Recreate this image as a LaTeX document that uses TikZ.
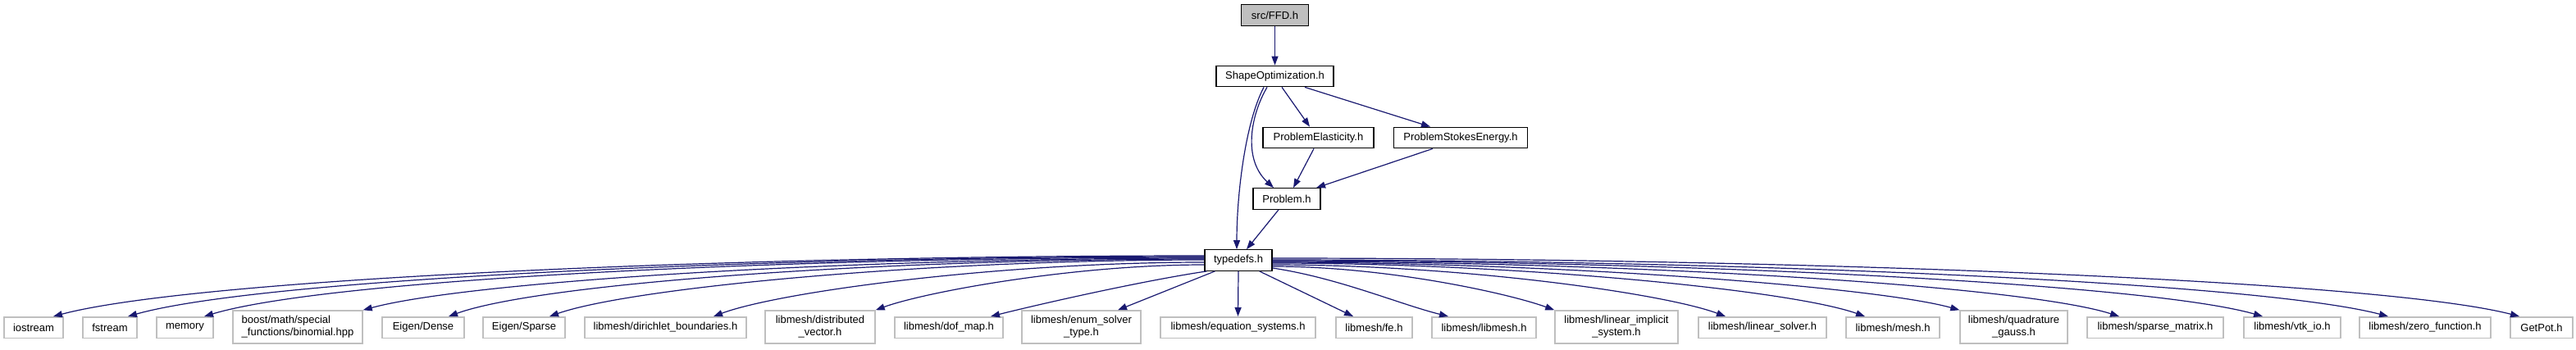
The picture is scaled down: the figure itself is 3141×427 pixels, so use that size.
\documentclass[tikz,border=0pt]{standalone}
\usepackage{fontspec}
\setmainfont{Liberation Sans}
\usetikzlibrary{arrows.meta,calc}
\definecolor{edgeblue}{HTML}{191970}
\definecolor{boxgray}{HTML}{BFBFBF}
\begin{document}
\begin{tikzpicture}[x=0.5pt,y=-0.5pt,
  every node/.style={font=\fontsize{6.5}{7.5}\selectfont, inner sep=0pt, align=center},
  topbox/.style={draw=black, line width=0.65pt, minimum height=12.75pt},
  gbox/.style={draw=boxgray, line width=0.75pt, minimum height=12.75pt},
  gbox2/.style={draw=boxgray, line width=0.75pt, minimum height=20pt},
  e/.style={draw=edgeblue, line width=0.6pt, -{Triangle[length=5.5pt,width=4pt]}}]
\useasboundingbox (0,0) rectangle (3141,427);
% top part
\node[topbox, fill=boxgray, minimum width=41pt] (ffd) at (1554.5,18.5) {src/FFD.h};
\node[topbox, minimum width=71.5pt] (shape) at (1554.5,93) {ShapeOptimization.h};
\node[topbox, minimum width=67.5pt] (elast) at (1607.5,168) {ProblemElasticity.h};
\node[topbox, minimum width=81.5pt] (stokes) at (1781,168) {ProblemStokesEnergy.h};
\node[topbox, minimum width=41pt] (problem) at (1569,242.5) {Problem.h};
\node[topbox, minimum width=41pt] (td) at (1510,317.5) {typedefs.h};
% bottom row
\node[gbox, minimum width=36pt] (iostream) at (41,399.5) {iostream};
\node[gbox, minimum width=33pt] (fstream) at (134,399.5) {fstream};
\node[gbox, minimum width=34.5pt] (memory) at (225.5,399.5) {memory};
\node[gbox2, minimum width=79pt, align=left] (boost) at (363,399) {boost/math/special\\\_functions/binomial.hpp};
\node[gbox, minimum width=50pt] (dense) at (516,399.5) {Eigen/Dense};
\node[gbox, minimum width=50pt] (sparse) at (639,399.5) {Eigen/Sparse};
\node[gbox, minimum width=98.5pt] (dirichlet) at (811.5,399.5) {libmesh/dirichlet\_boundaries.h};
\node[gbox2, minimum width=67pt] (distributed) at (1000,399) {libmesh/distributed\\\_vector.h};
\node[gbox, minimum width=66pt] (dofmap) at (1157,399.5) {libmesh/dof\_map.h};
\node[gbox2, minimum width=72.5pt] (enumsolver) at (1318.5,399) {libmesh/enum\_solver\\\_type.h};
\node[gbox, minimum width=94.5pt] (eqsys) at (1509.5,399.5) {libmesh/equation\_systems.h};
\node[gbox, minimum width=46.5pt] (fe) at (1675.5,399.5) {libmesh/fe.h};
\node[gbox, minimum width=63.5pt] (libmesh) at (1809.5,399.5) {libmesh/libmesh.h};
\node[gbox2, minimum width=75pt] (linimpl) at (1971,399) {libmesh/linear\_implicit\\\_system.h};
\node[gbox, minimum width=78pt] (linsolver) at (2149,399.5) {libmesh/linear\_solver.h};
\node[gbox, minimum width=57pt] (mesh) at (2308,399.5) {libmesh/mesh.h};
\node[gbox2, minimum width=65.5pt] (quad) at (2455.5,399) {libmesh/quadrature\\\_gauss.h};
\node[gbox, minimum width=83pt] (sparsemat) at (2628,399.5) {libmesh/sparse\_matrix.h};
\node[gbox, minimum width=59pt] (vtk) at (2795,399.5) {libmesh/vtk\_io.h};
\node[gbox, minimum width=80pt] (zero) at (2957,399.5) {libmesh/zero\_function.h};
\node[gbox, minimum width=38pt] (getpot) at (3099,399.5) {GetPot.h};
% top edges
\draw[e] (ffd.south) -- (shape.north);
\draw[e] ($(shape.south)+(8.5,0)$) -- ($(elast.north)+(-10.5,0)$);
\draw[e] ($(shape.south)+(36.5,0)$) -- ($(stokes.north)+(-37,0)$);
\draw[e] ($(shape.south)+(-9.5,0)$) .. controls +(-20,34) and +(-38,-35) .. ($(problem.north)+(-16,0)$);
\draw[e] ($(shape.south)+(-13.5,0)$) .. controls +(-23,44) and +(0,-65) .. ($(td.north)+(-2,0)$);
\draw[e] ($(elast.south)+(-5.5,0)$) -- ($(problem.north)+(8,0)$);
\draw[e] ($(stokes.south)+(-34,0)$) -- ($(problem.north)+(36,0)$);
\draw[e] ($(problem.south)+(-10,0)$) -- ($(td.north)+(10,0)$);
% bottom edges, left
\draw[e] ($(td.west)+(0,-5.5)$) .. controls +(-600,0) and +(170,-45) .. ($(iostream.north)+(24,0)$);
\draw[e] ($(td.west)+(0,-4.5)$) .. controls +(-560,0) and +(160,-45) .. ($(fstream.north)+(22,0)$);
\draw[e] ($(td.west)+(0,-3.5)$) .. controls +(-520,0) and +(150,-45) .. ($(memory.north)+(23.5,0)$);
\draw[e] ($(td.west)+(0,-2.5)$) .. controls +(-440,0) and +(130,-35) .. (boost.north east);
\draw[e] ($(td.west)+(0,-1.5)$) .. controls +(-400,0) and +(110,-40) .. ($(dense.north)+(31,0)$);
\draw[e] ($(td.west)+(0,-0.5)$) .. controls +(-340,0) and +(100,-35) .. ($(sparse.north)+(31,0)$);
\draw[e] ($(td.west)+(0,2.5)$) .. controls +(-250,0) and +(80,-30) .. ($(dirichlet.north)+(58.5,0)$);
\draw[e] ($(td.west)+(0,5.5)$) .. controls +(-160,0) and +(60,-22) .. (distributed.north east);
\draw[e] ($(td.south west)+(3,0)$) .. controls +(-80,12) and +(60,-15) .. ($(dofmap.north)+(51,0)$);
\draw[e] ($(td.south west)+(13,0)$) -- ($(enumsolver.north)+(44.5,0)$);
\draw[e] (td.south) -- (eqsys.north);
% bottom edges, right
\draw[e] ($(td.south east)+(-16,0)$) -- ($(fe.north)+(-25.5,0)$);
\draw[e] ($(td.east)+(0,9.5)$) .. controls +(80,12) and +(-60,-15) .. ($(libmesh.north)+(-43.5,0)$);
\draw[e] ($(td.east)+(0,7.5)$) .. controls +(140,0) and +(-55,-20) .. (linimpl.north west);
\draw[e] ($(td.east)+(0,5.5)$) .. controls +(230,0) and +(-75,-28) .. ($(linsolver.north)+(-45,0)$);
\draw[e] ($(td.east)+(0,3.5)$) .. controls +(300,0) and +(-90,-32) .. ($(mesh.north)+(-34,0)$);
\draw[e] ($(td.east)+(0,2.5)$) .. controls +(350,0) and +(-100,-28) .. (quad.north west);
\draw[e] ($(td.east)+(0,1.5)$) .. controls +(430,0) and +(-120,-38) .. ($(sparsemat.north)+(-44,0)$);
\draw[e] ($(td.east)+(0,0.5)$) .. controls +(500,0) and +(-140,-40) .. ($(vtk.north)+(-36,0)$);
\draw[e] ($(td.east)+(0,-0.5)$) .. controls +(560,0) and +(-160,-42) .. ($(zero.north)+(-45,0)$);
\draw[e] ($(td.east)+(0,-2.5)$) .. controls +(620,0) and +(-175,-45) .. ($(getpot.north)+(-27,0)$);
\end{tikzpicture}
\end{document}
